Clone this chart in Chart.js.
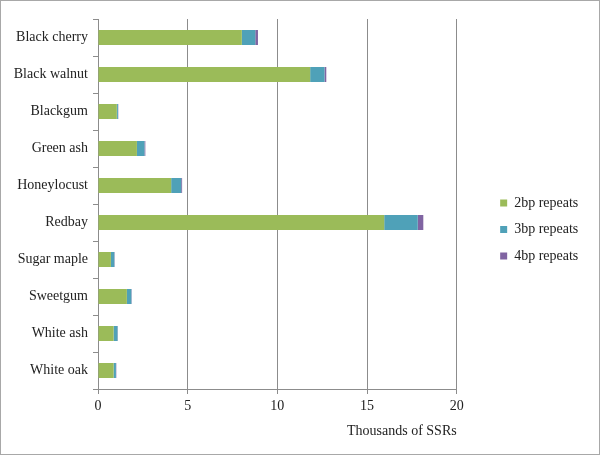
<!DOCTYPE html>
<html>
<head>
<meta charset="utf-8">
<script src="https://cdn.jsdelivr.net/npm/chart.js@4"></script>
<style>
  body { margin: 0; background: #fff; }
  #wrap { width: 600px; height: 455px; box-sizing: border-box; border: 1px solid #a8a8a8; position: relative; }
</style>
</head>
<body>
<div id="wrap"><canvas id="chart"></canvas></div>
<script>
const species = ["Black cherry", "Black walnut", "Blackgum", "Green ash", "Honeylocust",
  "Redbay", "Sugar maple", "Sweetgum", "White ash", "White oak"];
// thousands of SSRs
const repeats2bp = [8.02, 11.83, 1.05, 2.17, 4.08, 15.96, 0.72, 1.61, 0.87, 0.87];
const repeats3bp = [0.75, 0.80, 0.06, 0.42, 0.56, 1.87, 0.19, 0.25, 0.22, 0.13];
const repeats4bp = [0.15, 0.10, 0.02, 0.05, 0.05, 0.31, 0.02, 0.02, 0.02, 0.02];
const xTicks = [0, 5, 10, 15, 20];

Chart.defaults.font.family = "'Liberation Serif', serif";
Chart.defaults.font.size = 14;
Chart.defaults.color = "#222";

const gridColor = "#8c8c8c";

new Chart(document.getElementById("chart"), {
  type: "bar",
  data: {
    labels: species,
    datasets: [
      { label: "2bp repeats", data: repeats2bp, backgroundColor: "#9bbb59" },
      { label: "3bp repeats", data: repeats3bp, backgroundColor: "#4fa1b8" },
      { label: "4bp repeats", data: repeats4bp, backgroundColor: "#8064a2" }
    ]
  },
  options: {
    indexAxis: "y",
    responsive: true,
    maintainAspectRatio: false,
    animation: false,
    datasets: { bar: { barPercentage: 0.41, categoryPercentage: 1 } },
    layout: { padding: { top: 18, right: 14, bottom: 14, left: 0 } },
    plugins: {
      tooltip: { enabled: false },
      legend: {
        position: "right",
        labels: { boxWidth: 7, boxHeight: 7, padding: 12.5 }
      }
    },
    scales: {
      x: {
        stacked: true,
        min: 0,
        max: 20,
        afterBuildTicks: s => { s.ticks = xTicks.map(v => ({ value: v })); },
        afterFit: s => { s.height = 51; },
        ticks: { padding: 4, maxRotation: 0 },
        grid: { color: gridColor, tickLength: 5 },
        border: { color: gridColor },
        title: {
          display: true,
          text: "Thousands of SSRs",
          align: "end",
          padding: { top: 0, bottom: 0 }
        }
      },
      y: {
        stacked: true,
        afterFit: s => { s.width = 97; },
        ticks: { padding: 5 },
        grid: { drawOnChartArea: false, color: gridColor, tickLength: 5 },
        border: { color: gridColor }
      },
      y2: {
        type: "category",
        position: "right",
        ticks: { display: false },
        grid: { display: false },
        border: { display: false },
        afterFit: s => { s.width = 31; }
      }
    }
  }
});
</script>
</body>
</html>
